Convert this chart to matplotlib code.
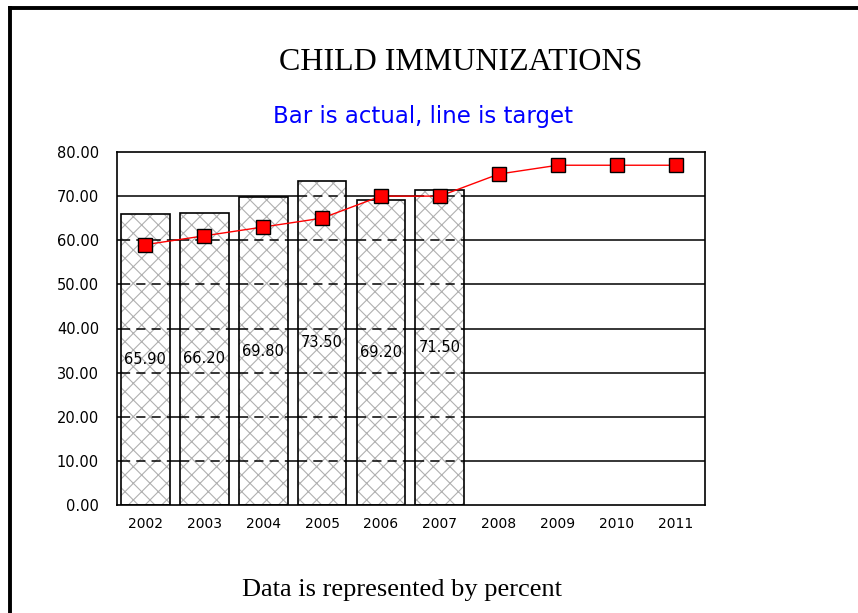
import matplotlib.pyplot as plt
from matplotlib.lines import Line2D

years = ["2002", "2003", "2004", "2005", "2006", "2007", "2008", "2009", "2010", "2011"]
actual = [65.90, 66.20, 69.80, 73.50, 69.20, 71.50]
target = [59, 61, 63, 65, 70, 70, 75, 77, 77, 77]
y_ticks = [0, 10, 20, 30, 40, 50, 60, 70, 80]

plt.rcParams["hatch.linewidth"] = 0.8

fig = plt.figure(figsize=(8.58, 6.13), dpi=100)
ax = fig.add_axes([117 / 858, 108 / 613, 588 / 858, 353 / 613])

x = list(range(len(years)))
xa = x[:len(actual)]
w = 0.83

# grid: solid in the open, dashed across the bars
for v in y_ticks[1:-1]:
    ax.axhline(v, color="black", lw=1.1, zorder=0)
bars = ax.bar(xa, actual, width=w, color="white", edgecolor="#b0b0b0", hatch="xx", lw=0, zorder=1)
for b, v_top in zip(bars, actual):
    gl = [v for v in y_ticks[1:-1] if v < v_top]
    ax.hlines(gl, b.get_x(), b.get_x() + b.get_width(), colors="black", lw=1.1,
              linestyles=(0, (6, 4)), zorder=2)
ax.bar(xa, actual, width=w, color="none", edgecolor="black", lw=1.2, zorder=3)

for xi, v in zip(xa, actual):
    ax.text(xi, v / 2, f"{v:.2f}", ha="center", va="center", fontsize=10.5,
            family="DejaVu Sans", zorder=4)

ax.plot(x, target, color="red", lw=1, marker="s", markersize=10,
        markerfacecolor="red", markeredgecolor="black", markeredgewidth=1, zorder=5)

ax.set_xlim(-0.48, 9.5)
ax.set_ylim(0, 80)
ax.set_yticks(y_ticks)
ax.set_yticklabels([f"{v:.2f}" for v in y_ticks], fontsize=10.5)
ax.set_xticks(x)
ax.set_xticklabels(years, fontsize=10)
ax.tick_params(axis="y", length=0, pad=13)
ax.tick_params(axis="x", length=0, pad=9)
for s in ax.spines.values():
    s.set_linewidth(1.2)

fig.text(461 / 858, 1 - 62 / 613, "CHILD IMMUNIZATIONS", ha="center", va="center",
         fontsize=23, family="Liberation Serif")
fig.text(423 / 858, 1 - 116 / 613, "Bar is actual, line is target", ha="center", va="center",
         fontsize=16.5, family="DejaVu Sans", color="blue")
fig.text(402 / 858, 1 - 590 / 613, "Data is represented by percent", ha="center", va="center",
         fontsize=19, family="Liberation Serif")

# page border (left and top only)
fig.add_artist(Line2D([10 / 858, 10 / 858], [0, 1 - 8 / 613], color="black", lw=2.8))
fig.add_artist(Line2D([10 / 858, 1], [1 - 8 / 613, 1 - 8 / 613], color="black", lw=2.8))

fig.savefig("out.png", dpi=100, facecolor="white")
